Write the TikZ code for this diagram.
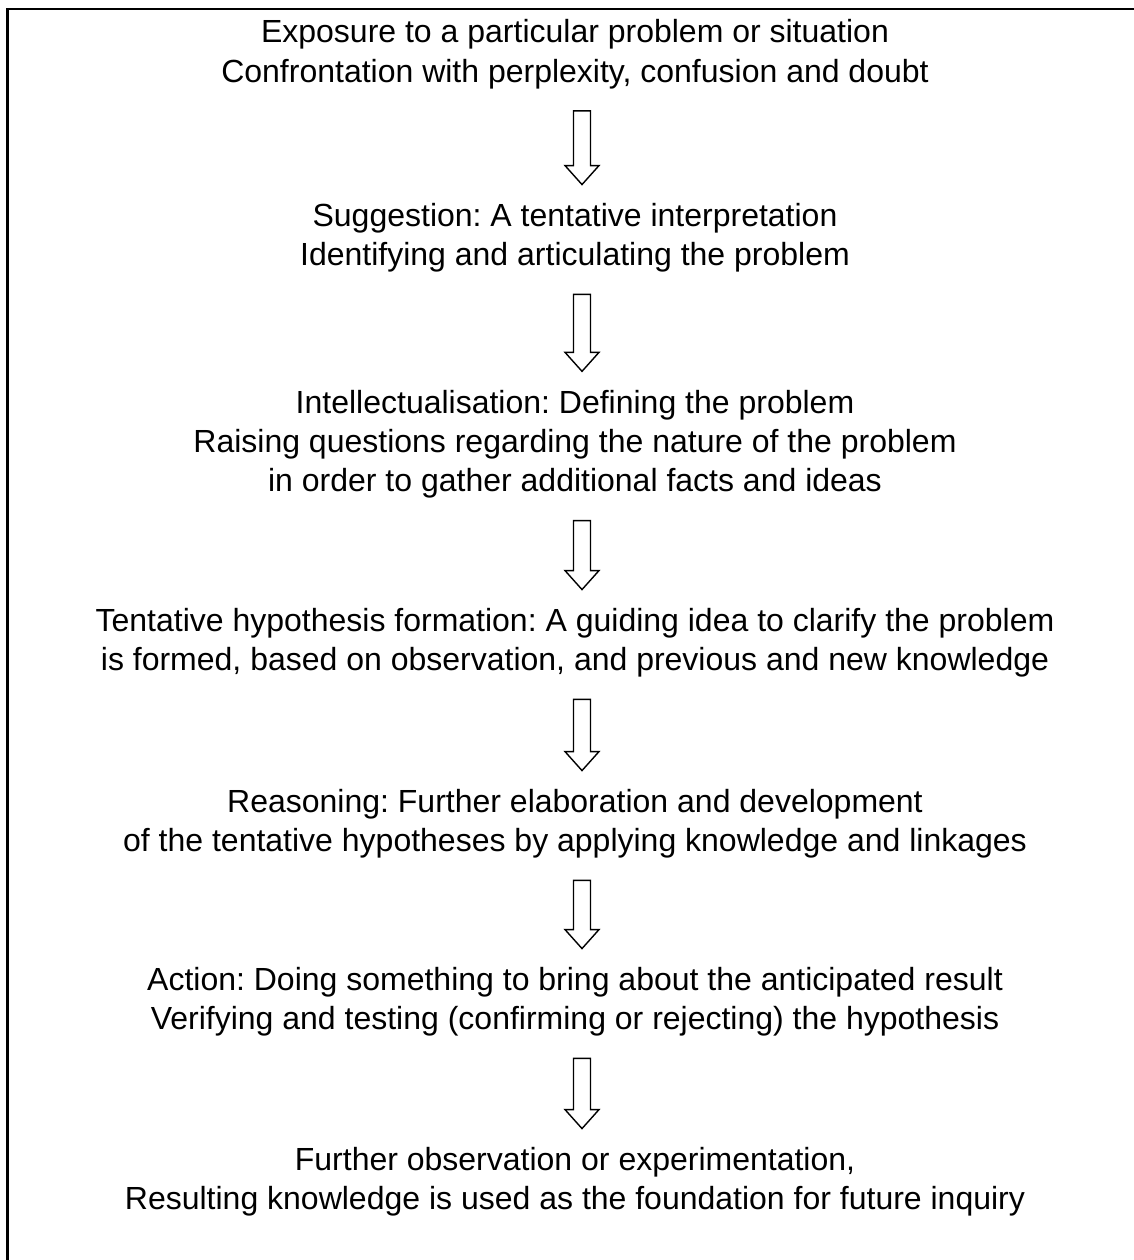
\documentclass[tikz,border=0pt]{standalone}
\usepackage{fontspec}
\setmainfont{Liberation Sans}
\usetikzlibrary{calc}
\frenchspacing
\tikzset{
  stagetext/.style={align=center, inner sep=0pt, font=\fontsize{24}{29.6}\selectfont\frenchspacing},
  frameline/.style={line width=1.9pt},
  blockline/.style={line width=1.05pt, line join=miter}
}
\newcommand{\blockarrow}[2]{%
  \draw[blockline] ($(#1)+(-8.5,0)$) -- ($(#2)+(-8.5,-19)$) -- ($(#2)+(-17,-19)$)
    -- (#2) -- ($(#2)+(17,-19)$) -- ($(#2)+(8.5,-19)$) -- ($(#1)+(8.5,0)$) -- cycle;}
\begin{document}
\begin{tikzpicture}[x=0.75pt,y=-0.75pt]
\useasboundingbox (0,0) rectangle (1134,1260);
\draw[frameline] (7.5,9) rectangle (1160,1290);
\coordinate (ax) at (582,0);
% line centres + 3.6 (strut offset), average per block
\node[stagetext] (s1) at (575,54.6) {\strut Exposure to a particular problem or situation\\\strut Confrontation with perplexity, confusion and doubt};
\node[stagetext] (s2) at (575,238.1) {\strut Suggestion: A tentative interpretation\\\strut Identifying and articulating the problem};
\node[stagetext] (s3) at (575,444.6) {\strut Intellectualisation: Defining the problem\\\strut Raising questions regarding the nature of the problem\\\strut in order to gather additional facts and ideas};
\node[stagetext] (s4) at (575,643.1) {\strut Tentative hypothesis formation: A guiding idea to clarify the problem\\\strut is formed, based on observation, and previous and new knowledge};
\node[stagetext] (s5) at (575,824.1) {\strut Reasoning: Further elaboration and development\\\strut of the tentative hypotheses by applying knowledge and linkages};
\node[stagetext] (s6) at (575,1002.1) {\strut Action: Doing something to bring about the anticipated result\\\strut Verifying and testing (confirming or rejecting) the hypothesis};
\node[stagetext] (s7) at (575,1182.1) {\strut Further observation or experimentation,\\\strut Resulting knowledge is used as the foundation for future inquiry};
\foreach \a/\b [count=\i] in {s1/s2,s2/s3,s3/s4,s4/s5,s5/s6,s6/s7}{
  \coordinate (top\i) at ($(ax |- \a.south)+(0,16.6)$);
  \coordinate (tip\i) at ($(ax |- \b.north)+(0,-13.8)$);
  \blockarrow{top\i}{tip\i}
}
\end{tikzpicture}
\end{document}
